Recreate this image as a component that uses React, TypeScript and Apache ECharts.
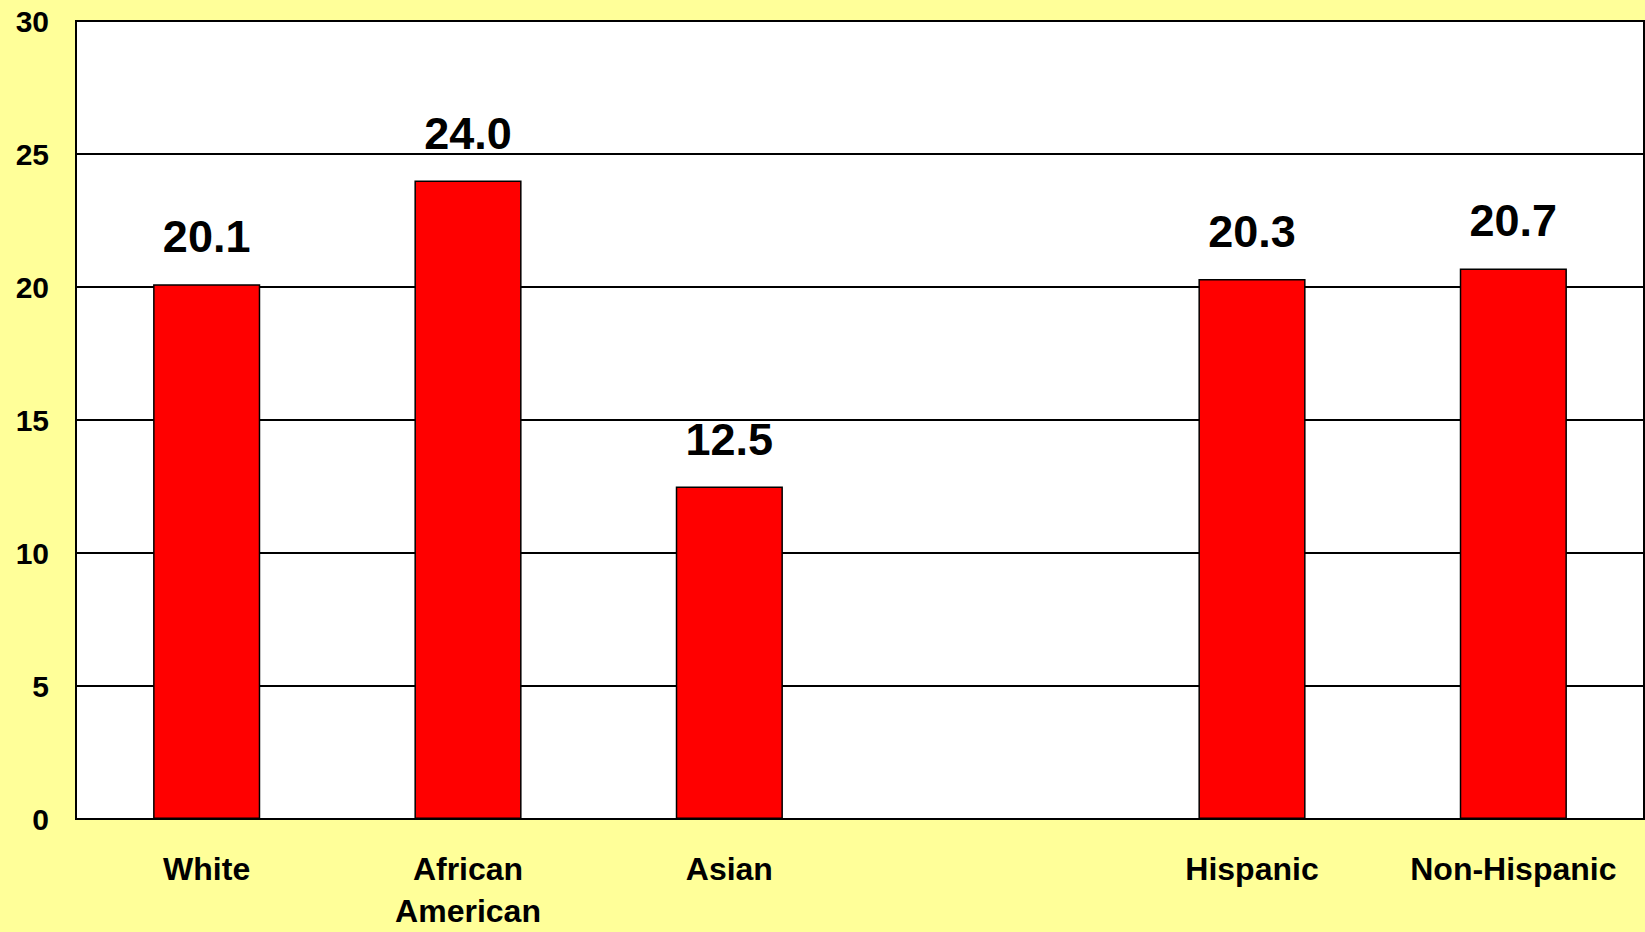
import React, { useEffect, useRef } from "react";
import * as echarts from "echarts";

const categories = ["White", "African\nAmerican", "Asian", "", "Hispanic", "Non-Hispanic"];
const values: (number | null)[] = [20.1, 24.0, 12.5, null, 20.3, 20.7];
const yTicks = { min: 0, max: 30, interval: 5 };

const FONT = "'Liberation Sans', Arial, Helvetica, sans-serif";

export default function App() {
  const ref = useRef<HTMLDivElement>(null);
  useEffect(() => {
    if (!ref.current) return;
    const chart = echarts.init(ref.current, undefined, { renderer: "svg" });
    chart.setOption({
      animation: false,
      backgroundColor: "#FFFF99",
      textStyle: { fontFamily: FONT },
      grid: {
        left: 76,
        right: 1,
        top: 21,
        bottom: 106,
        show: true,
        backgroundColor: "#FFFFFF",
        borderColor: "#000000",
        borderWidth: 2,
      },
      xAxis: {
        type: "category",
        data: categories,
        axisLine: { show: true, lineStyle: { color: "#000", width: 2 } },
        axisTick: { show: false },
        axisLabel: {
          interval: 0,
          margin: 29,
          color: "#000",
          fontSize: 32,
          fontWeight: "bold",
          fontFamily: FONT,
          lineHeight: 42,
          verticalAlign: "top",
        },
      },
      yAxis: {
        type: "value",
        min: yTicks.min,
        max: yTicks.max,
        interval: yTicks.interval,
        axisLine: { show: true, lineStyle: { color: "#000", width: 2 } },
        axisTick: { show: false },
        splitLine: { show: true, lineStyle: { color: "#000", width: 2 } },
        axisLabel: {
          margin: 27,
          color: "#000",
          fontSize: 30,
          fontWeight: "bold",
          fontFamily: FONT,
        },
      },
      series: [
        {
          type: "bar",
          data: values,
          barWidth: "41%",
          itemStyle: { color: "#FF0000", borderColor: "#000", borderWidth: 1.5 },
          label: {
            show: true,
            position: "top",
            distance: 25,
            color: "#000",
            fontSize: 45,
            fontWeight: "bold",
            fontFamily: FONT,
            formatter: (p: any) => (p.value == null ? "" : Number(p.value).toFixed(1)),
          },
        },
      ],
    });
    return () => chart.dispose();
  }, []);
  return (
    <div
      ref={ref}
      style={{ position: "fixed", left: 0, top: 0, width: 1645, height: 932 }}
    />
  );
}
